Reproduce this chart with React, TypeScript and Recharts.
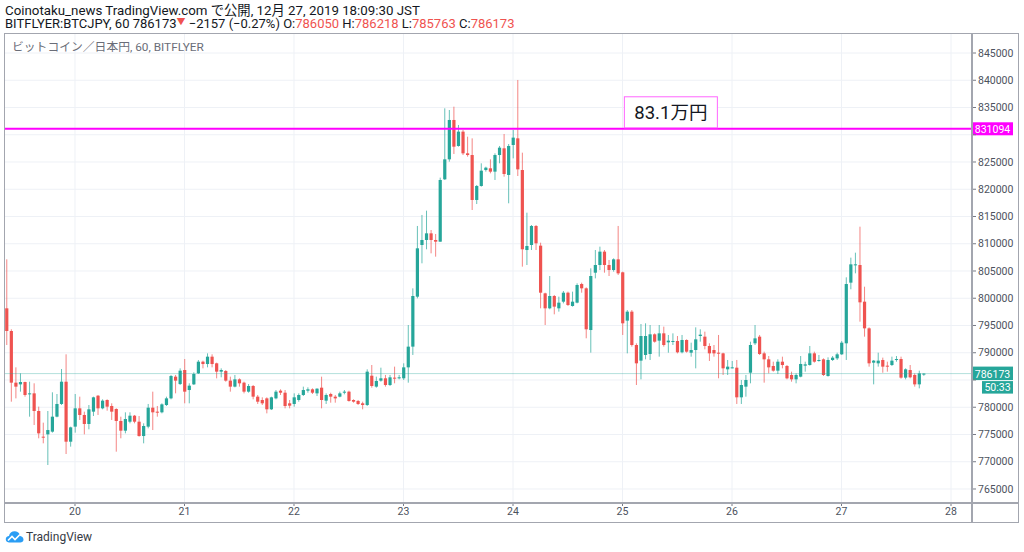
import React from "react";
import {
  ComposedChart,
  Bar,
  XAxis,
  YAxis,
  CartesianGrid,
  ReferenceLine,
  ReferenceDot,
} from "recharts";

// hours relative to Dec 20 00:00 JST; first candle is Dec 19 09:00
const startHour = -15;

const opens = [
  798150, 793990, 784510, 784200, 784630, 782430, 782550, 779310, 774600, 775030,
  775520, 778270, 780600, 784690, 773680, 776440, 779800, 778580, 776930, 779190,
  782120, 779800, 781330, 780230, 779680, 777480, 775700, 777350, 778450, 777350,
  774720, 776440, 779920, 779190, 779070, 780410, 781630, 785610, 784260, 786830,
  783160, 784200, 786220, 788360, 787930, 789280, 788060, 786530, 786650, 784880,
  783780, 785120, 784510, 782860, 783900, 781940, 781330, 781630, 779620, 781630,
  783040, 782670, 780720, 780600, 781330, 782250, 783040, 783290, 782550, 783590,
  781210, 782430, 781940, 781940, 782670, 782860, 781330, 781150, 780720, 780410,
  785790, 783780, 784880, 785310, 784080, 785430, 785370, 785310, 787320, 791120,
  800290, 809770, 810690, 811910, 810690, 810380, 821820, 825490, 832710, 827940,
  830570, 826590, 826280, 818030, 820600, 823530, 823840, 823230, 826280, 827510,
  822620, 828120, 829340, 823530, 808850, 809770, 813260, 809650, 800900, 798150,
  800410, 798150, 799370, 801020, 798580, 799190, 802610, 801820, 794170, 804690,
  806100, 808550, 806100, 805180, 807140, 804760, 795890, 797540, 791420, 788550,
  789590, 789770, 793380, 792220, 793560, 791910, 792030, 792160, 790080, 792340,
  790010, 790500, 793070, 792950, 791240, 790500, 790010, 789890, 786960, 787260,
  787260, 781820, 783780, 786340, 791730, 792950, 789890, 788790, 787570, 786710,
  788360, 787570, 785920, 785120, 785610, 787630, 787750, 789890, 788490, 788790,
  785730, 788670, 788970, 789710, 791730, 802860, 806100, 806100, 799370, 794480,
  788180, 788060, 788670, 787630, 787750, 788670, 788850, 785430, 786830, 785920,
  784200, 786050,
];

const highs = [
  807140, 794300, 787320, 786220, 784690, 784690, 784390, 780110, 777170, 779310,
  782740, 782430, 787020, 789710, 776440, 782430, 781940, 779190, 780410, 781940,
  782250, 781450, 781450, 780720, 779800, 778270, 779070, 779070, 778580, 778390,
  777050, 780600, 782860, 780230, 780720, 781940, 785920, 785920, 787140, 788850,
  784390, 786410, 788670, 788550, 789890, 789710, 788180, 787140, 786830, 785610,
  785920, 785300, 784690, 784260, 784080, 782250, 781820, 781820, 781940, 783160,
  783290, 783160, 781330, 782550, 782550, 783780, 783650, 783470, 783470, 785610,
  782550, 782670, 782250, 782860, 783160, 783040, 781450, 781330, 781020, 786960,
  787750, 785610, 787260, 785920, 785920, 787450, 785920, 788060, 795090, 801820,
  813260, 815280, 816070, 812520, 811790, 822130, 834850, 834540, 835150, 831790,
  830870, 829650, 829340, 820780, 824760, 824140, 825490, 826590, 827940, 830140,
  828300, 830870, 840050, 826710, 815700, 813440, 813440, 810200, 801020, 804080,
  800600, 800290, 801330, 801210, 801210, 802740, 802860, 802000, 805490, 808850,
  809470, 808850, 807020, 807320, 813260, 804880, 797840, 797840, 791730, 795270,
  795400, 795090, 793560, 795090, 794790, 793260, 793560, 793070, 793260, 792460,
  791850, 794660, 794300, 793870, 791730, 791420, 793260, 790010, 788670, 788490,
  788670, 785000, 785920, 792030, 795090, 793260, 790200, 789400, 788360, 788790,
  789280, 787750, 786530, 786220, 789400, 788360, 791240, 790200, 789590, 788970,
  789160, 789400, 790010, 792160, 803840, 807450, 808360, 813130, 802120, 794660,
  788670, 790010, 789100, 788360, 789280, 789400, 789280, 787140, 787750, 786220,
  786710, 786218,
];

const lows = [
  791420, 781020, 781630, 782860, 781940, 778270, 776740, 774300, 773380, 769400,
  775340, 778150, 780410, 771420, 772770, 775340, 777660, 775030, 775950, 778390,
  778580, 779620, 779370, 777660, 771850, 774300, 775210, 777050, 777050, 774600,
  773380, 776130, 775820, 778270, 778880, 780230, 781450, 782550, 784080, 780720,
  780720, 784080, 786100, 787140, 787320, 787320, 785300, 785490, 784690, 782860,
  783650, 783780, 782550, 782670, 781450, 780600, 780410, 778880, 779490, 781450,
  782250, 779800, 779800, 780110, 781020, 782060, 782670, 782430, 782060, 779800,
  780600, 780840, 780840, 781820, 782370, 781020, 780840, 780410, 779620, 780230,
  783590, 783590, 784690, 783780, 783900, 784390, 785120, 785000, 784510, 789590,
  799980, 806410, 808980, 808240, 807630, 810380, 821700, 825060, 826470, 827810,
  826280, 825980, 816190, 817290, 820470, 823230, 822920, 821700, 824760, 822310,
  817420, 825670, 822430, 805800, 806100, 808850, 808850, 798150, 795090, 797970,
  797050, 797540, 799070, 798580, 798460, 799070, 801020, 792650, 790020, 803650,
  805180, 804690, 804080, 804880, 804270, 793260, 789890, 791120, 784080, 785120,
  788790, 788670, 791850, 789280, 791120, 790010, 791420, 789890, 789890, 790010,
  789280, 787140, 792030, 790630, 788490, 789280, 785310, 785920, 785920, 787140,
  780600, 780600, 781940, 784390, 791420, 789590, 784510, 786220, 786530, 786100,
  787140, 785120, 784690, 784390, 785490, 786530, 787630, 788180, 788360, 785730,
  785610, 788490, 788670, 789590, 788670, 801640, 804570, 795700, 792950, 787450,
  784200, 787450, 786340, 786530, 787570, 788360, 785240, 785120, 785300, 783780,
  783470, 785763,
];

const closes = [
  793990, 784510, 783780, 784630, 782250, 782550, 779310, 775210, 774420, 775820,
  778270, 780600, 784690, 773680, 776310, 779800, 778580, 776930, 779620, 781820,
  779800, 781210, 780110, 779190, 777480, 775700, 777840, 778450, 777350, 774720,
  776560, 779920, 779070, 779000, 780530, 781630, 785730, 784880, 786710, 782860,
  783960, 786100, 788360, 787930, 789280, 787930, 786530, 786830, 784880, 783780,
  785120, 784390, 782860, 783900, 781940, 781020, 780720, 779620, 781820, 782860,
  782670, 780230, 780290, 781820, 782250, 783160, 783290, 782670, 783410, 781330,
  782250, 781940, 781630, 782550, 782860, 781150, 781020, 780600, 780410, 786530,
  783900, 784820, 785310, 784080, 785490, 785310, 785490, 787320, 791120, 800410,
  809160, 810690, 811910, 810690, 810380, 821700, 825490, 832710, 827810, 830570,
  826590, 826280, 818030, 820600, 823410, 823960, 823230, 826280, 827630, 822800,
  827940, 829470, 823650, 808980, 809590, 813260, 810080, 801020, 798150, 800410,
  798460, 799190, 801020, 798760, 799370, 802430, 801820, 794300, 804080, 806100,
  808550, 806100, 805180, 807140, 804570, 795400, 797540, 791420, 788060, 793070,
  793070, 793380, 792030, 793560, 791420, 792220, 792160, 790080, 792340, 790200,
  790500, 792460, 793320, 791240, 789890, 789890, 789890, 787140, 787450, 787320,
  781820, 784080, 785000, 791420, 792640, 789770, 788790, 787320, 786710, 788360,
  787750, 785300, 785120, 785920, 787940, 787870, 789890, 788360, 788670, 785920,
  788670, 789100, 789710, 791850, 802610, 806220, 806220, 799250, 794480, 788060,
  788550, 788550, 787450, 787450, 788550, 788850, 785430, 786960, 785490, 784200,
  786220, 786173,
];

const dayTicks = [0, 24, 48, 72, 96, 120, 144, 168, 192];
const dayLabels = ["20", "21", "22", "23", "24", "25", "26", "27", "28"];
const priceTicks = [
  765000, 770000, 775000, 780000, 785000, 790000, 795000, 800000, 805000,
  810000, 815000, 820000, 825000, 830000, 835000, 840000, 845000,
];
// tick labels covered by the price tags in the reference
const coveredTicks = [785000, 830000];
const resistance = 831094;
const resistanceNote = "83.1万円";
const lastPrice = 786173;
const countdown = "50:33";

const UP = "#26a69a";
const DOWN = "#ef5350";
const FONT = "Roboto, 'Noto Sans CJK JP', sans-serif";

const data = opens.map((o, i) => ({
  hour: startHour + i,
  open: o,
  high: highs[i],
  low: lows[i],
  close: closes[i],
  range: [lows[i], highs[i]],
}));

const Candle = (props: any) => {
  const { x, y, width, height, payload } = props;
  if (!payload || x == null || y == null) return null;
  const { open, close, high, low } = payload;
  const top = Math.min(y, y + height);
  const bottom = Math.max(y, y + height);
  const span = high - low;
  const toY = (v: number) => (span === 0 ? top : top + ((high - v) / span) * (bottom - top));
  const cx = x + width / 2;
  const color = close >= open ? UP : DOWN;
  const yo = toY(open);
  const yc = toY(close);
  const bTop = Math.min(yo, yc);
  const bH = Math.max(1, Math.abs(yc - yo));
  const bw = 3.2;
  return (
    <g>
      <line x1={cx} x2={cx} y1={top} y2={bottom} stroke={color} strokeWidth={1} strokeOpacity={0.7} />
      <rect x={cx - bw / 2} y={bTop} width={bw} height={bH} fill={color} />
    </g>
  );
};

const ResistanceTag = (props: any) => {
  const vb = props.viewBox || {};
  const right = (vb.x || 0) + (vb.width || 0);
  const yy = vb.y || 0;
  return (
    <g>
      <rect x={right} y={yy - 6.5} width={41} height={13} fill="#ff00ff" />
      <text x={right + 20.5} y={yy + 4} textAnchor="middle" fontSize={10.5} fill="#ffffff" fontFamily={FONT}>
        {String(resistance)}
      </text>
    </g>
  );
};

const LastTag = (props: any) => {
  const vb = props.viewBox || {};
  const right = (vb.x || 0) + (vb.width || 0);
  const yy = vb.y || 0;
  return (
    <g>
      <rect x={right} y={yy - 7} width={41} height={13.5} fill={UP} />
      <text x={right + 20.5} y={yy + 4} textAnchor="middle" fontSize={10.5} fill="#ffffff" fontFamily={FONT}>
        {String(lastPrice)}
      </text>
      <rect x={right + 10} y={yy + 7.5} width={31} height={12.5} fill={UP} />
      <text x={right + 25.5} y={yy + 17.5} textAnchor="middle" fontSize={10.5} fill="#ffffff" fontFamily={FONT}>
        {countdown}
      </text>
    </g>
  );
};

const NoteBox = (props: any) => {
  const { cx, cy } = props;
  if (cx == null || cy == null) return null;
  return (
    <g>
      <rect x={cx - 46.5} y={cy - 32} width={93} height={31} fill="#ffffff" stroke="#ff66ff" strokeWidth={1} />
      <text x={cx} y={cy - 9.5} textAnchor="middle" fontSize={18.5} fill="#131722" fontFamily={FONT}>
        {resistanceNote}
      </text>
    </g>
  );
};

const frameColor = "#a3a6af";

export default function App() {
  return (
    <div
      style={{
        position: "absolute",
        left: 0,
        top: 0,
        width: 1024,
        height: 552,
        background: "#ffffff",
        fontFamily: FONT,
        overflow: "hidden",
      }}
    >
      <div style={{ position: "absolute", left: 5, top: 3, fontSize: 13.3, color: "#131722", whiteSpace: "nowrap", lineHeight: "15px" }}>
        Coinotaku_news TradingView.com で公開, 12月 27, 2019 18:09:30 JST
      </div>
      <div style={{ position: "absolute", left: 5, top: 16, fontSize: 13, color: "#131722", whiteSpace: "nowrap", lineHeight: "15px" }}>
        BITFLYER:BTCJPY, 60 786173<span style={{ color: DOWN, fontSize: 9, position: "relative", top: -3 }}>▼</span> −2157 (−0.27%) O:
        <span style={{ color: DOWN }}>786050</span> H:<span style={{ color: DOWN }}>786218</span> L:
        <span style={{ color: DOWN }}>785763</span> C:<span style={{ color: DOWN }}>786173</span>
      </div>

      <div style={{ position: "absolute", left: 0, top: 0 }}>
        <ComposedChart
          width={1024}
          height={552}
          data={data}
          margin={{ top: 33, left: 5, right: 5, bottom: 29 }}
        >
          <CartesianGrid stroke="#eef1f6" strokeWidth={1} horizontalValues={priceTicks} verticalValues={dayTicks} />
          <XAxis
            dataKey="hour"
            type="number"
            domain={[-15.34, 196.6]}
            allowDataOverflow
            ticks={dayTicks}
            tickFormatter={(v: number) => dayLabels[dayTicks.indexOf(v)] ?? ""}
            height={20}
            axisLine={false}
            tickLine={{ stroke: "#787b86" }}
            tickSize={3}
            tick={{ fontSize: 10.5, fill: "#4c525e", fontFamily: FONT }}
            interval={0}
          />
          <YAxis
            orientation="right"
            type="number"
            domain={[762430, 848670]}
            allowDataOverflow
            ticks={priceTicks}
            tickFormatter={(v: number) => (coveredTicks.includes(v) ? "" : String(v))}
            width={47}
            axisLine={false}
            tickLine={{ stroke: "#787b86" }}
            tickSize={4}
            tick={{ fontSize: 10.5, fill: "#4c525e", fontFamily: FONT, textAnchor: "start" }}
            interval={0}
          />
          <ReferenceLine y={lastPrice} stroke={UP} strokeOpacity={0.35} strokeWidth={1} label={<LastTag />} ifOverflow="visible" />
          <Bar dataKey="range" barSize={3} shape={<Candle />} isAnimationActive={false} />
          <ReferenceLine y={resistance} stroke="#ff00ff" strokeWidth={2} label={<ResistanceTag />} ifOverflow="visible" />
          <ReferenceDot x={130.6} y={resistance} r={0} shape={<NoteBox />} ifOverflow="visible" />
        </ComposedChart>
      </div>

      <div style={{ position: "absolute", left: 4, top: 33, width: 1015, height: 490, border: `1px solid ${frameColor}`, boxSizing: "border-box", pointerEvents: "none" }} />
      <div style={{ position: "absolute", left: 971, top: 33, width: 1.5, height: 490, background: frameColor }} />
      <div style={{ position: "absolute", left: 4, top: 502, width: 1015, height: 1.5, background: frameColor }} />

      <div style={{ position: "absolute", left: 12, top: 39, fontSize: 11.8, color: "#6a6d78", whiteSpace: "nowrap", lineHeight: "16px" }}>
        ビットコイン／日本円, 60, BITFLYER
      </div>

      <svg style={{ position: "absolute", left: 5, top: 530 }} width={19} height={13} viewBox="0 0 19 13">
        <path d="M4 12.5 C1.5 12.5 0.5 10.5 0.8 8.8 C1.1 7 2.5 6 4 6 C4.5 3 7 1 10 1.2 C13 1.4 14.8 3.5 15.2 6 C17.2 6.3 18.6 7.8 18.5 9.8 C18.4 11.5 17 12.5 15.3 12.5 Z" fill="#2a9df4" />
        <path d="M3 10.5 L7 6.5 L10 9.5 L15 4.5" stroke="#ffffff" strokeWidth={1.6} fill="none" />
      </svg>
      <div style={{ position: "absolute", left: 26, top: 529, fontSize: 12, color: "#363a45", whiteSpace: "nowrap", lineHeight: "16px" }}>
        TradingView
      </div>
    </div>
  );
}
